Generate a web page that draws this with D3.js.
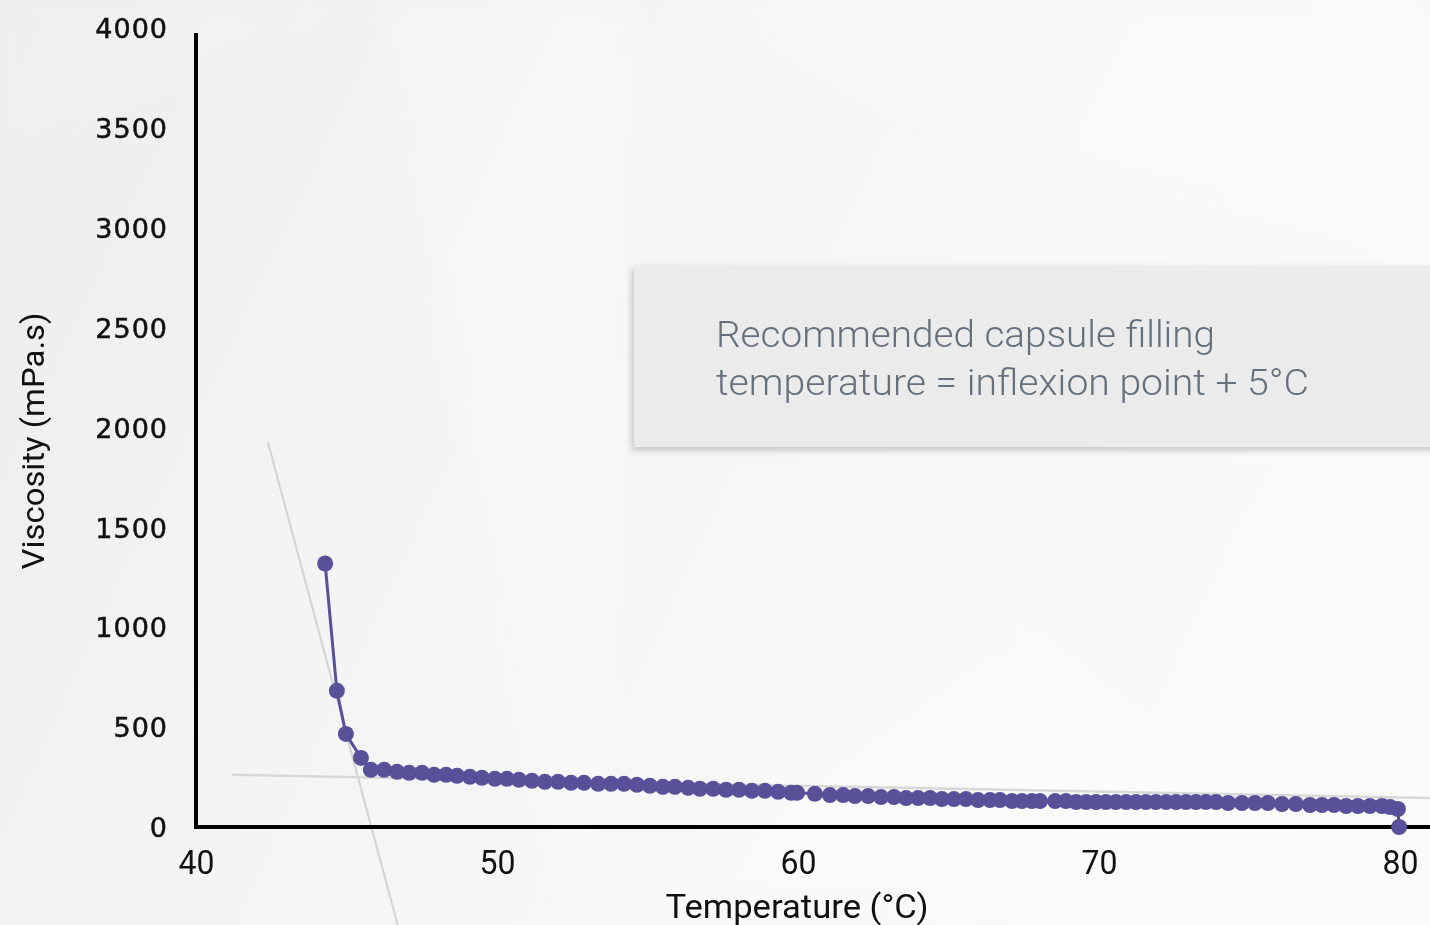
<!DOCTYPE html>
<html>
<head>
<meta charset="utf-8">
<script src="https://cdn.jsdelivr.net/npm/d3@7"></script>
<style>
  html, body { margin: 0; padding: 0; background: #f4f4f4; }
  svg { display: block; }
</style>
</head>
<body>
<svg id="chart" width="1430" height="925"></svg>
<script>
// ---- Data ----
const temperature = [44.29, 44.68, 44.98, 45.48, 45.81, 46.25, 46.68, 47.08, 47.51, 47.91, 48.31, 48.67, 49.10, 49.50, 49.93,
  50.33, 50.73, 51.16, 51.59, 52.03, 52.46, 52.89, 53.36, 53.79, 54.22, 54.65, 55.08, 55.51, 55.91, 56.35,
  56.74, 57.18, 57.61, 58.04, 58.47, 58.90, 59.34, 59.77, 59.97, 60.56, 61.06, 61.50, 61.89, 62.33, 62.76,
  63.19, 63.59, 63.99, 64.39, 64.78, 65.18, 65.58, 65.98, 66.38, 66.71, 67.11, 67.44, 67.77, 68.04, 68.54,
  68.90, 69.24, 69.57, 69.90, 70.23, 70.56, 70.90, 71.23, 71.56, 71.89, 72.23, 72.56, 72.89, 73.22, 73.55,
  73.89, 74.29, 74.75, 75.18, 75.61, 76.08, 76.54, 77.01, 77.41, 77.81, 78.21, 78.60, 79.00, 79.40, 79.67,
  79.93, 79.97];
const viscosity = [1319, 682, 466, 346, 286, 286, 276, 271, 271, 261, 261, 256, 251, 246, 241,
  241, 236, 231, 226, 226, 221, 221, 216, 216, 216, 211, 206, 201, 201, 196,
  191, 191, 186, 186, 181, 181, 176, 171, 171, 166, 160, 160, 155, 155, 150,
  150, 145, 145, 145, 140, 140, 140, 135, 135, 135, 130, 130, 130, 130, 130,
  130, 125, 125, 125, 125, 125, 125, 125, 125, 125, 125, 125, 125, 125, 125,
  125, 120, 120, 120, 120, 115, 115, 110, 110, 110, 105, 105, 105, 105, 100,
  90, 0];
const xTicks = [40, 50, 60, 70, 80];
const yTicks = [0, 500, 1000, 1500, 2000, 2500, 3000, 3500, 4000];
// tangent construction lines (temperature, viscosity endpoints)
const tangentSteepT = [42.39, 46.71];
const tangentSteepV = [1926, -496];
const tangentFlatT = [41.20, 81.0];
const tangentFlatV = [261, 145];
const noteLines = ["Recommended capsule filling", "temperature = inflexion point + 5°C"];
const xTitle = "Temperature (°C)";
const yTitle = "Viscosity (mPa.s)";

// ---- Chart ----
const W = 1430, H = 925;
const svg = d3.select("#chart");
const defs = svg.append("defs");

const bg = defs.append("linearGradient").attr("id", "bg").attr("x1", "0").attr("y1", "0").attr("x2", "1").attr("y2", "0.3");
bg.append("stop").attr("offset", "0").attr("stop-color", "#ededed");
bg.append("stop").attr("offset", "0.45").attr("stop-color", "#f5f5f5");
bg.append("stop").attr("offset", "1").attr("stop-color", "#fafafa");

const sh = defs.append("filter").attr("id", "shadow").attr("x", "-10%").attr("y", "-20%").attr("width", "130%").attr("height", "150%");
sh.append("feDropShadow").attr("dx", -2).attr("dy", 3).attr("stdDeviation", 3.5).attr("flood-color", "#000").attr("flood-opacity", 0.22);
const blur = defs.append("filter").attr("id", "soft").attr("x", "-20%").attr("y", "-20%").attr("width", "140%").attr("height", "140%");
blur.append("feGaussianBlur").attr("stdDeviation", 18);

svg.append("rect").attr("width", W).attr("height", H).attr("fill", "url(#bg)");
// faint background facets
const facets = [
  [[380, 0], [640, 0], [600, 925], [560, 925]],
  [[0, 0], [380, 0], [0, 160]],
  [[700, 0], [1430, 0], [1430, 260], [900, 120]],
  [[560, 925], [1000, 600], [1430, 925]]
];
svg.append("g").attr("filter", "url(#soft)").selectAll("polygon").data(facets).join("polygon")
  .attr("points", d => d.map(p => p.join(",")).join(" "))
  .attr("fill", "#ffffff").attr("opacity", (d, i) => [0.3, 0.15, 0.3, 0.25][i]);

const x = d3.scaleLinear().domain([40, 80]).range([196, 1400]);
const y = d3.scaleLinear().domain([0, 4000]).range([827, 28]);

// Note box
const boxG = svg.append("g");
boxG.append("rect").attr("x", 634).attr("y", 266).attr("width", 820).attr("height", 181)
  .attr("fill", "#ebebeb").attr("filter", "url(#shadow)");
boxG.selectAll("text").data(noteLines).join("text")
  .attr("x", 716).attr("y", (d, i) => 347 + i * 48)
  .attr("font-family", "Roboto, sans-serif").attr("font-weight", 300)
  .attr("font-size", 36).attr("fill", "#66707c")
  .attr("textLength", (d, i) => i === 0 ? 499 : 593).attr("lengthAdjust", "spacingAndGlyphs")
  .text(d => d);

// tangent lines
const lineGen = d3.line().x(d => x(d[0])).y(d => y(d[1]));
svg.append("path").attr("d", lineGen(d3.zip(tangentSteepT, tangentSteepV)))
  .attr("stroke", "#d2d2d2").attr("stroke-width", 2).attr("fill", "none");
svg.append("path").attr("d", lineGen(d3.zip(tangentFlatT, tangentFlatV)))
  .attr("stroke", "#d8d8d8").attr("stroke-width", 2.5).attr("fill", "none");

// Axes
const yAxis = d3.axisLeft(y).tickValues(yTicks).tickFormat(d3.format("d")).tickSize(0).tickPadding(28);
const gy = svg.append("g").attr("transform", "translate(196,0)").call(yAxis);
gy.select(".domain").remove();
gy.selectAll("text").attr("font-family", "'DejaVu Sans', sans-serif").attr("font-size", 27)
  .attr("fill", "#111").attr("stroke", "#111").attr("stroke-width", 0.5)
  .attr("letter-spacing", 1).attr("dy", "0.36em");

const xAxis = d3.axisBottom(x).tickValues(xTicks).tickFormat(d3.format("d")).tickSize(0).tickPadding(0);
const gx = svg.append("g").attr("transform", "translate(0,827)").call(xAxis);
gx.select(".domain").remove();
gx.selectAll("text").attr("font-family", "Roboto, sans-serif").attr("font-size", 34)
  .attr("fill", "#111").attr("dy", null).attr("y", 47)
  .attr("textLength", 36).attr("lengthAdjust", "spacingAndGlyphs");

svg.append("line").attr("x1", 196).attr("x2", 196).attr("y1", 33).attr("y2", 829)
  .attr("stroke", "#000").attr("stroke-width", 4);
svg.append("line").attr("x1", 194).attr("x2", 1430).attr("y1", 827).attr("y2", 827)
  .attr("stroke", "#000").attr("stroke-width", 4);

svg.append("text").attr("x", 797).attr("y", 918).attr("text-anchor", "middle")
  .attr("font-family", "Roboto, sans-serif").attr("font-size", 34).attr("fill", "#111")
  .attr("textLength", 263).attr("lengthAdjust", "spacingAndGlyphs").text(xTitle);
svg.append("text").attr("transform", "translate(44,441) rotate(-90)").attr("text-anchor", "middle")
  .attr("font-family", "Roboto, sans-serif").attr("font-size", 32).attr("fill", "#111")
  .attr("textLength", 257).attr("lengthAdjust", "spacingAndGlyphs").text(yTitle);

// Data series
const pts = d3.zip(temperature, viscosity);
svg.append("path").attr("d", lineGen(pts)).attr("fill", "none")
  .attr("stroke", "#58519a").attr("stroke-width", 3);
svg.append("g").selectAll("circle").data(pts).join("circle")
  .attr("cx", d => x(d[0])).attr("cy", d => y(d[1])).attr("r", 8).attr("fill", "#58519a");
</script>
</body>
</html>
